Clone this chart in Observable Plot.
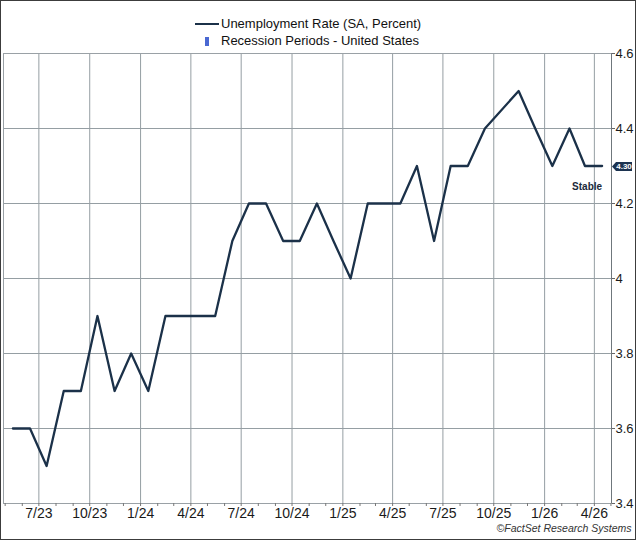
<!DOCTYPE html>
<html>
<head>
<meta charset="utf-8">
<script src="https://cdn.jsdelivr.net/npm/d3@7"></script>
<script src="https://cdn.jsdelivr.net/npm/@observablehq/plot@0.6"></script>
<style>
  html, body { margin: 0; padding: 0; background: #fff; }
  #wrap { position: relative; width: 636px; height: 540px; font-family: "Liberation Sans", Arial, sans-serif; overflow: hidden; }
  #chart { position: absolute; left: 0; top: 0; }
  #border { position: absolute; left: 0; top: 0; width: 636px; height: 540px; box-sizing: border-box; border: 1px solid #3c3c3c; pointer-events: none; }
  .leg { position: absolute; left: 221px; font-size: 13px; color: #111; line-height: 16px; white-space: nowrap; }
  .sym-line { position: absolute; left: 195px; top: 23px; width: 24px; height: 2px; background: #1b3149; }
  .sym-rect { position: absolute; left: 205px; top: 37px; width: 4px; height: 9px; background: #4a68d2; }
</style>
</head>
<body>
<div id="wrap">
  <div id="chart"></div>
  <div class="sym-line"></div>
  <div class="leg" style="top:16px">Unemployment Rate (SA, Percent)</div>
  <div class="sym-rect"></div>
  <div class="leg" style="top:33px">Recession Periods - United States</div>
  <div id="border"></div>
</div>
<script>
// Monthly observations (Oct 2025 not published)
const months = [
  "2023-05","2023-06","2023-07","2023-08","2023-09","2023-10","2023-11","2023-12",
  "2024-01","2024-02","2024-03","2024-04","2024-05","2024-06","2024-07","2024-08",
  "2024-09","2024-10","2024-11","2024-12","2025-01","2025-02","2025-03","2025-04",
  "2025-05","2025-06","2025-07","2025-08","2025-09","2025-11","2025-12","2026-01",
  "2026-02","2026-03","2026-04"
];
const rate = [
  3.6, 3.6, 3.5, 3.7, 3.7, 3.9, 3.7, 3.8,
  3.7, 3.9, 3.9, 3.9, 3.9, 4.1, 4.2, 4.2,
  4.1, 4.1, 4.2, 4.1, 4.0, 4.2, 4.2, 4.2,
  4.3, 4.1, 4.3, 4.3, 4.4, 4.5, 4.4, 4.3,
  4.4, 4.3, 4.3
];
const xTicks = ["2023-07-01","2023-10-01","2024-01-01","2024-04-01","2024-07-01","2024-10-01",
                "2025-01-01","2025-04-01","2025-07-01","2025-10-01","2026-01-01","2026-04-01"];
const xTickLabels = ["7/23","10/23","1/24","4/24","7/24","10/24","1/25","4/25","7/25","10/25","1/26","4/26"];
const yTicks = [3.4, 3.6, 3.8, 4.0, 4.2, 4.4, 4.6];
const yTickLabels = ["3.4","3.6","3.8","4","4.2","4.4","4.6"];
const lastLabel = "4.30";
const lastNote = "Stable";
const copyright = "©FactSet Research Systems";

const data = months.map((m, i) => ({date: new Date(m + "-15T00:00:00Z"), value: rate[i]}));
const xTickDates = xTicks.map(d => new Date(d + "T00:00:00Z"));
const xDomain = [new Date("2023-04-28T00:00:00Z"), new Date("2026-05-02T00:00:00Z")];
const monthStarts = d3.utcMonth.range(xDomain[0], xDomain[1]);
const last = data[data.length - 1];

const lineColor = "#1b3149";
const gridColor = "#959ea3";

function lastValueTag(index, scales, values, dimensions) {
  const y = scales.y(last.value) + 1;
  const x0 = dimensions.width - dimensions.marginRight + 1;
  const g = d3.create("svg:g");
  g.append("path")
    .attr("d", `M${x0},${y} L${x0 + 4},${y - 4.5} L${x0 + 20},${y - 4.5} L${x0 + 20},${y + 4.5} L${x0 + 4},${y + 4.5} Z`)
    .attr("fill", "#1c3350");
  g.append("text")
    .attr("x", x0 + 12).attr("y", y)
    .attr("dy", "0.35em")
    .attr("text-anchor", "middle")
    .attr("fill", "#fff")
    .attr("font-size", 8)
    .attr("font-weight", "bold")
    .attr("font-family", "Liberation Sans, Arial, sans-serif")
    .text(lastLabel);
  return g.node();
}

const chart = Plot.plot({
  width: 636,
  height: 540,
  marginLeft: 3,
  marginRight: 25,
  marginTop: 53,
  marginBottom: 37,
  style: {fontFamily: "Liberation Sans, Arial, sans-serif", background: "transparent"},
  x: {type: "utc", domain: xDomain, label: null},
  y: {domain: [3.4, 4.6], label: null},
  marks: [
    Plot.gridX(xTickDates, {stroke: gridColor, strokeOpacity: 1}),
    Plot.gridY(yTicks, {stroke: gridColor, strokeOpacity: 1}),
    Plot.frame({stroke: "#9aa1a6"}),
    Plot.axisX(monthStarts, {tickSize: 3, tickFormat: () => "", stroke: "#777", label: null}),
    Plot.axisX(xTickDates, {
      tickSize: 0, tickPadding: 5, fontSize: 14, fill: "#1a1a1a", label: null,
      tickFormat: d => xTickLabels[xTickDates.findIndex(t => +t === +d)]
    }),
    Plot.axisY(yTicks, {
      anchor: "right", tickSize: 3, tickPadding: 1, fontSize: 13, fill: "#1a1a1a", stroke: "#666", label: null,
      tickFormat: d => yTickLabels[yTicks.indexOf(d)]
    }),
    Plot.ruleX([xDomain[1]], {stroke: "#6f777c"}),
    Plot.line(data, {x: "date", y: "value", stroke: lineColor, strokeWidth: 2.3}),
    Plot.text([last], {x: "date", y: "value", text: () => lastNote, dy: 21, textAnchor: "end",
      fontSize: 10, fontWeight: "bold", fill: "#1c2a3a"}),
    lastValueTag,
    Plot.text([copyright], {frameAnchor: "bottom-right", dx: 20, dy: 28, fontSize: 10.5,
      fontStyle: "italic", fill: "#333", textAnchor: "end"})
  ]
});
document.getElementById("chart").appendChild(chart);
</script>
</body>
</html>
